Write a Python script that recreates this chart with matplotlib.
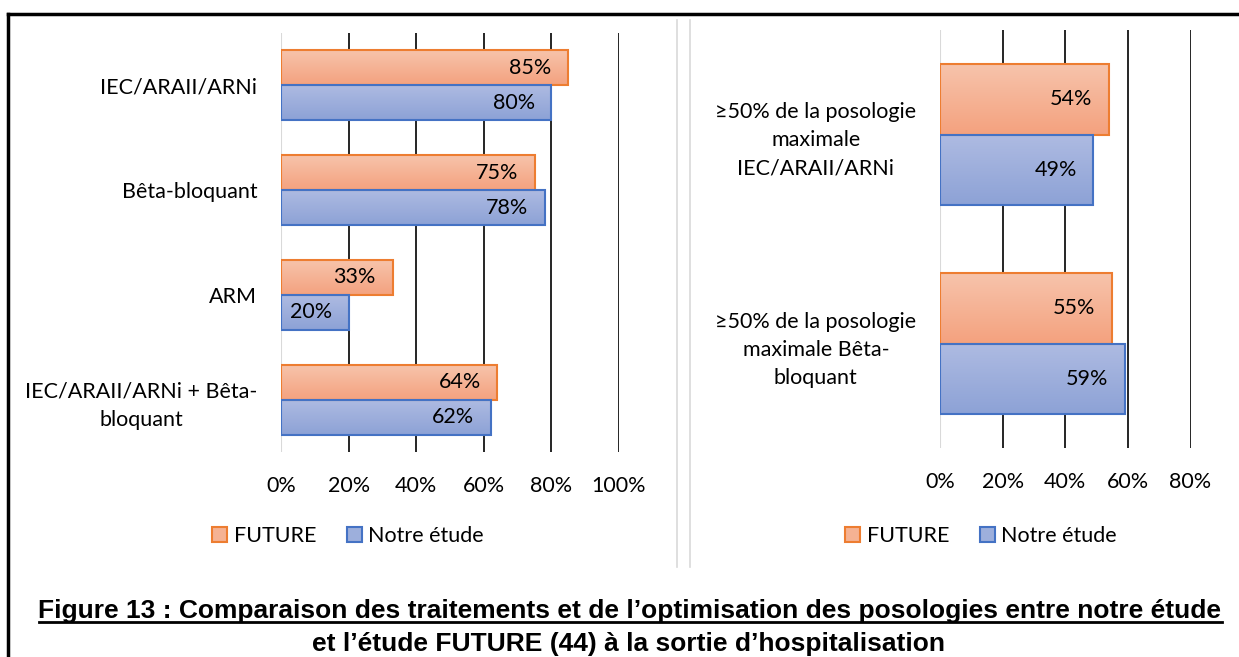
import numpy as np
import matplotlib
matplotlib.use('Agg')
import matplotlib.pyplot as plt
from matplotlib.patches import Patch
from matplotlib.lines import Line2D

# données
cats_left = ['IEC/ARAII/ARNi', 'Bêta-bloquant', 'ARM', 'IEC/ARAII/ARNi + Bêta-\nbloquant']
future_left = [85, 75, 33, 64]
notre_left = [80, 78, 20, 62]

cats_right = ['≥50% de la posologie\nmaximale\nIEC/ARAII/ARNi',
              '≥50% de la posologie\nmaximale Bêta-\nbloquant']
future_right = [54, 55]
notre_right = [49, 59]

series_names = ['FUTURE', 'Notre étude']
caption1 = 'Figure 13 : Comparaison des traitements et de l’optimisation des posologies entre notre étude'
caption2 = 'et l’étude FUTURE (44) à la sortie d’hospitalisation'

FONT = ['Lato', 'DejaVu Sans']
plt.rcParams['font.family'] = FONT
FS = 15.5

orange_edge = '#ED7D31'
blue_edge = '#4472C4'
orange_grad = ['#F7C4AC', '#F4A27F']
blue_grad = ['#AEBBE2', '#8DA2D6']
W, H = 1239, 657


def grad_bars(ax, y, vals, h, cols, edge):
    bars = ax.barh(y, vals, height=h, facecolor='none', edgecolor=edge, linewidth=1.5, zorder=4)
    c0 = np.array(matplotlib.colors.to_rgb(cols[0]))
    c1 = np.array(matplotlib.colors.to_rgb(cols[1]))
    t = np.linspace(0, 1, 50)[:, None]
    img = (c0 * (1 - t) + c1 * t)[:, None, :]
    for b in bars:
        x0, y0 = b.get_x(), b.get_y()
        im = ax.imshow(img, extent=(x0, x0 + b.get_width(), y0 + b.get_height(), y0),
                       aspect='auto', zorder=3, interpolation='bilinear')
        im.set_clip_path(b)
    for v, yy in zip(vals, y):
        ax.annotate(f'{v}%', (v, yy), xytext=(-12, 0), textcoords='offset points',
                    ha='right', va='center', fontsize=FS, color='black', zorder=5)
    return bars


def panel(rect, cats, fut, notre, xmax):
    ax = fig.add_axes(rect)
    y = np.arange(len(cats))
    h = 0.335
    grad_bars(ax, y - h / 2, fut, h, orange_grad, orange_edge)
    grad_bars(ax, y + h / 2, notre, h, blue_grad, blue_edge)
    ax.set_xlim(0, xmax)
    ax.set_ylim(len(cats) - 0.5, -0.5)
    ticks = np.arange(0, xmax + 1, 20)
    ax.set_xticks(ticks)
    ax.set_xticklabels([f'{t}%' for t in ticks], fontsize=FS)
    for t in ticks[1:]:
        ax.axvline(t, color='black', lw=1.2, zorder=1)
    ax.axvline(0, color='#D9D9D9', lw=1.5, zorder=2)
    ax.set_yticks(y)
    ax.set_yticklabels(cats, fontsize=FS, multialignment='center', linespacing=1.5)
    ax.tick_params(length=0)
    ax.tick_params(axis='y', pad=17)
    ax.tick_params(axis='x', pad=17)
    for s in ax.spines.values():
        s.set_visible(False)
    ax.set_facecolor('none')
    return ax


fig = plt.figure(figsize=(W / 100, H / 100), dpi=100)

panel([281 / W, 1 - 452 / H, 338 / W, 419 / H], cats_left, future_left, notre_left, 100)
panel([940 / W, 1 - 448 / H, 250.5 / W, 418 / H], cats_right, future_right, notre_right, 80)

handles = [Patch(facecolor='#F5B293', edgecolor=orange_edge, linewidth=1.5),
           Patch(facecolor='#9DAFDC', edgecolor=blue_edge, linewidth=1.5)]
for cx in [348 / W, 981 / W]:
    fig.legend(handles, series_names, loc='center', bbox_to_anchor=(cx, 1 - 536 / H),
               ncol=2, frameon=False, fontsize=FS, handlelength=0.7, handleheight=0.7,
               handletextpad=0.3, columnspacing=1.4)

# cadre et séparateurs
fig.add_artist(Line2D([8 / W, 8 / W], [0, 1 - 14 / H], color='black', lw=2.5))
fig.add_artist(Line2D([8 / W, 1], [1 - 14 / H, 1 - 14 / H], color='black', lw=2.5))
for xs in [677, 690]:
    fig.add_artist(Line2D([xs / W, xs / W], [1 - 20 / H, 1 - 567 / H], color='#D9D9D9', lw=1.2))

t1 = fig.text(630 / W, 1 - 611 / H, caption1, ha='center', va='center', fontsize=19,
              fontweight='bold', family='Liberation Sans')
t2 = fig.text(628 / W, 1 - 644 / H, caption2, ha='center', va='center', fontsize=19,
              fontweight='bold', family='Liberation Sans')
fig.canvas.draw()
r = fig.canvas.get_renderer()
bb = t1.get_window_extent(r)
fig.add_artist(Line2D([bb.x0 / W, bb.x1 / W], [(bb.y0 + 1) / H, (bb.y0 + 1) / H],
                      color='black', lw=2))

fig.savefig('out.png', dpi=100)
